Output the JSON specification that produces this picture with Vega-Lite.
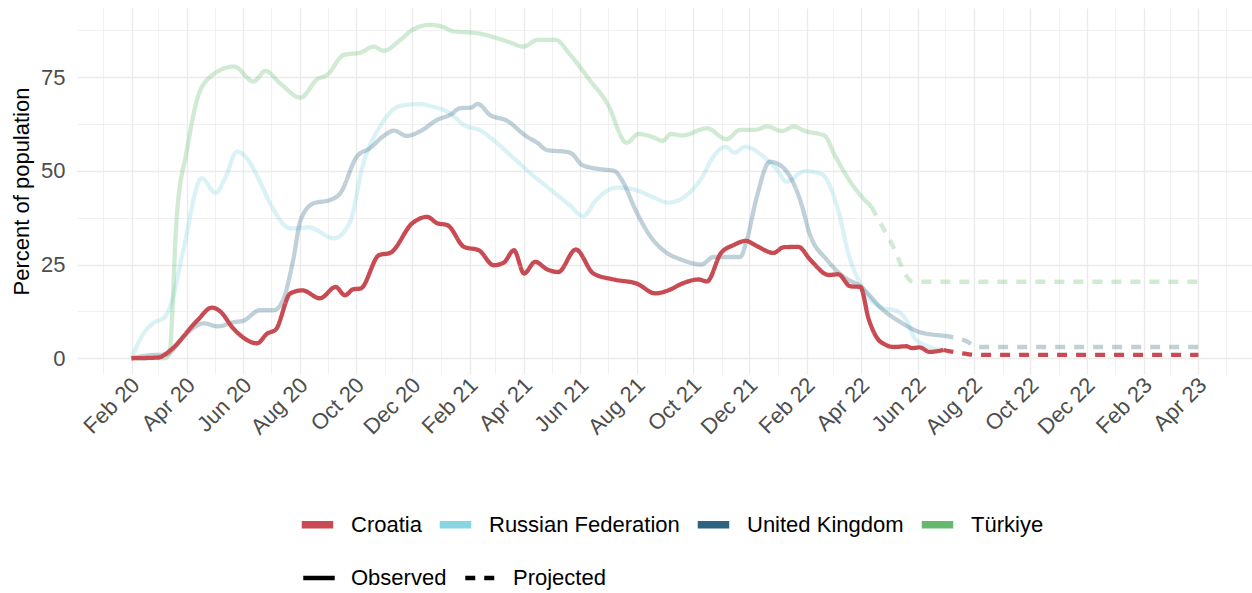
{
  "$schema": "https://vega.github.io/schema/vega-lite/v6.json",
  "width": 1175,
  "height": 366,
  "autosize": {"type": "none"},
  "padding": {"left": 77, "top": 8, "right": 0, "bottom": 219},
  "background": "white",
  "config": {
    "view": {"stroke": null},
    "font": "Liberation Sans",
    "axis": {
      "domain": false,
      "ticks": false,
      "gridColor": "#EBEBEB",
      "labelColor": "#4D4D4D",
      "labelFont": "Liberation Sans",
      "labelFontSize": 22,
      "titleFont": "Liberation Sans",
      "titleFontSize": 22,
      "titleFontWeight": "normal",
      "titleColor": "#000000"
    },
    "legend": {
      "labelFont": "Liberation Sans",
      "labelFontSize": 22,
      "labelColor": "#000000",
      "labelLimit": 400,
      "padding": 0
    }
  },
  "data": {
    "values": [
      {"country": "Croatia", "type": "Observed", "date": "2020-02-01", "value": 0},
      {"country": "Croatia", "type": "Observed", "date": "2020-03-01", "value": 0.2},
      {"country": "Croatia", "type": "Observed", "date": "2020-03-14", "value": 2.1},
      {"country": "Croatia", "type": "Observed", "date": "2020-04-12", "value": 10},
      {"country": "Croatia", "type": "Observed", "date": "2020-04-28", "value": 13.5},
      {"country": "Croatia", "type": "Observed", "date": "2020-05-07", "value": 12.5},
      {"country": "Croatia", "type": "Observed", "date": "2020-05-21", "value": 8},
      {"country": "Croatia", "type": "Observed", "date": "2020-06-16", "value": 4},
      {"country": "Croatia", "type": "Observed", "date": "2020-06-27", "value": 6.6},
      {"country": "Croatia", "type": "Observed", "date": "2020-07-06", "value": 7.6},
      {"country": "Croatia", "type": "Observed", "date": "2020-07-22", "value": 17.3},
      {"country": "Croatia", "type": "Observed", "date": "2020-08-04", "value": 18.1},
      {"country": "Croatia", "type": "Observed", "date": "2020-08-23", "value": 16},
      {"country": "Croatia", "type": "Observed", "date": "2020-09-09", "value": 19},
      {"country": "Croatia", "type": "Observed", "date": "2020-09-19", "value": 16.8},
      {"country": "Croatia", "type": "Observed", "date": "2020-09-28", "value": 18.4},
      {"country": "Croatia", "type": "Observed", "date": "2020-10-06", "value": 18.6},
      {"country": "Croatia", "type": "Observed", "date": "2020-10-26", "value": 27.5},
      {"country": "Croatia", "type": "Observed", "date": "2020-11-07", "value": 28.1},
      {"country": "Croatia", "type": "Observed", "date": "2020-12-01", "value": 36},
      {"country": "Croatia", "type": "Observed", "date": "2020-12-17", "value": 37.7},
      {"country": "Croatia", "type": "Observed", "date": "2020-12-28", "value": 36},
      {"country": "Croatia", "type": "Observed", "date": "2021-01-08", "value": 35.5},
      {"country": "Croatia", "type": "Observed", "date": "2021-01-26", "value": 29.7},
      {"country": "Croatia", "type": "Observed", "date": "2021-02-11", "value": 28.8},
      {"country": "Croatia", "type": "Observed", "date": "2021-02-27", "value": 24.8},
      {"country": "Croatia", "type": "Observed", "date": "2021-03-10", "value": 25.5},
      {"country": "Croatia", "type": "Observed", "date": "2021-03-21", "value": 28.8},
      {"country": "Croatia", "type": "Observed", "date": "2021-04-01", "value": 22.6},
      {"country": "Croatia", "type": "Observed", "date": "2021-04-13", "value": 25.7},
      {"country": "Croatia", "type": "Observed", "date": "2021-04-26", "value": 23.7},
      {"country": "Croatia", "type": "Observed", "date": "2021-05-08", "value": 23},
      {"country": "Croatia", "type": "Observed", "date": "2021-05-27", "value": 29},
      {"country": "Croatia", "type": "Observed", "date": "2021-06-15", "value": 22.6},
      {"country": "Croatia", "type": "Observed", "date": "2021-07-07", "value": 21},
      {"country": "Croatia", "type": "Observed", "date": "2021-08-01", "value": 19.9},
      {"country": "Croatia", "type": "Observed", "date": "2021-08-21", "value": 17.3},
      {"country": "Croatia", "type": "Observed", "date": "2021-09-06", "value": 18.3},
      {"country": "Croatia", "type": "Observed", "date": "2021-09-19", "value": 19.9},
      {"country": "Croatia", "type": "Observed", "date": "2021-10-07", "value": 21},
      {"country": "Croatia", "type": "Observed", "date": "2021-10-16", "value": 20.5},
      {"country": "Croatia", "type": "Observed", "date": "2021-10-31", "value": 28},
      {"country": "Croatia", "type": "Observed", "date": "2021-11-14", "value": 30.2},
      {"country": "Croatia", "type": "Observed", "date": "2021-11-27", "value": 31.3},
      {"country": "Croatia", "type": "Observed", "date": "2021-12-09", "value": 29.9},
      {"country": "Croatia", "type": "Observed", "date": "2021-12-27", "value": 28.1},
      {"country": "Croatia", "type": "Observed", "date": "2022-01-07", "value": 29.6},
      {"country": "Croatia", "type": "Observed", "date": "2022-01-23", "value": 29.7},
      {"country": "Croatia", "type": "Observed", "date": "2022-02-05", "value": 26.2},
      {"country": "Croatia", "type": "Observed", "date": "2022-02-25", "value": 22.2},
      {"country": "Croatia", "type": "Observed", "date": "2022-03-07", "value": 22.4},
      {"country": "Croatia", "type": "Observed", "date": "2022-03-20", "value": 19.2},
      {"country": "Croatia", "type": "Observed", "date": "2022-03-31", "value": 19.0},
      {"country": "Croatia", "type": "Observed", "date": "2022-04-09", "value": 10.5},
      {"country": "Croatia", "type": "Observed", "date": "2022-04-20", "value": 4.8},
      {"country": "Croatia", "type": "Observed", "date": "2022-04-25", "value": 3.9},
      {"country": "Croatia", "type": "Observed", "date": "2022-05-06", "value": 3.0},
      {"country": "Croatia", "type": "Observed", "date": "2022-05-20", "value": 3.2},
      {"country": "Croatia", "type": "Observed", "date": "2022-05-26", "value": 2.7},
      {"country": "Croatia", "type": "Observed", "date": "2022-06-03", "value": 2.9},
      {"country": "Croatia", "type": "Observed", "date": "2022-06-14", "value": 1.7},
      {"country": "Croatia", "type": "Observed", "date": "2022-06-29", "value": 2.2},
      {"country": "Croatia", "type": "Projected", "date": "2022-06-29", "value": 2.2},
      {"country": "Croatia", "type": "Projected", "date": "2022-07-25", "value": 1.1},
      {"country": "Croatia", "type": "Projected", "date": "2022-08-04", "value": 0.9},
      {"country": "Croatia", "type": "Projected", "date": "2023-04-01", "value": 0.9},

      {"country": "Russian Federation", "type": "Observed", "date": "2020-02-01", "value": 0},
      {"country": "Russian Federation", "type": "Observed", "date": "2020-02-14", "value": 6.6},
      {"country": "Russian Federation", "type": "Observed", "date": "2020-02-24", "value": 9.3},
      {"country": "Russian Federation", "type": "Observed", "date": "2020-03-08", "value": 11},
      {"country": "Russian Federation", "type": "Observed", "date": "2020-03-15", "value": 14.6},
      {"country": "Russian Federation", "type": "Observed", "date": "2020-03-28", "value": 28.8},
      {"country": "Russian Federation", "type": "Observed", "date": "2020-04-17", "value": 48},
      {"country": "Russian Federation", "type": "Observed", "date": "2020-05-02", "value": 44.1},
      {"country": "Russian Federation", "type": "Observed", "date": "2020-05-13", "value": 48.4},
      {"country": "Russian Federation", "type": "Observed", "date": "2020-05-25", "value": 55.1},
      {"country": "Russian Federation", "type": "Observed", "date": "2020-06-05", "value": 53.3},
      {"country": "Russian Federation", "type": "Observed", "date": "2020-06-19", "value": 47.1},
      {"country": "Russian Federation", "type": "Observed", "date": "2020-07-02", "value": 40.4},
      {"country": "Russian Federation", "type": "Observed", "date": "2020-07-22", "value": 34.6},
      {"country": "Russian Federation", "type": "Observed", "date": "2020-08-11", "value": 34.9},
      {"country": "Russian Federation", "type": "Observed", "date": "2020-09-07", "value": 32},
      {"country": "Russian Federation", "type": "Observed", "date": "2020-09-24", "value": 36},
      {"country": "Russian Federation", "type": "Observed", "date": "2020-10-09", "value": 52},
      {"country": "Russian Federation", "type": "Observed", "date": "2020-10-27", "value": 61.8},
      {"country": "Russian Federation", "type": "Observed", "date": "2020-11-18", "value": 67.3},
      {"country": "Russian Federation", "type": "Observed", "date": "2020-12-10", "value": 67.8},
      {"country": "Russian Federation", "type": "Observed", "date": "2020-12-20", "value": 67.3},
      {"country": "Russian Federation", "type": "Observed", "date": "2021-01-11", "value": 65.3},
      {"country": "Russian Federation", "type": "Observed", "date": "2021-01-26", "value": 62.2},
      {"country": "Russian Federation", "type": "Observed", "date": "2021-02-13", "value": 60.7},
      {"country": "Russian Federation", "type": "Observed", "date": "2021-03-03", "value": 57.3},
      {"country": "Russian Federation", "type": "Observed", "date": "2021-03-21", "value": 53.3},
      {"country": "Russian Federation", "type": "Observed", "date": "2021-04-08", "value": 49.3},
      {"country": "Russian Federation", "type": "Observed", "date": "2021-04-30", "value": 44.9},
      {"country": "Russian Federation", "type": "Observed", "date": "2021-05-20", "value": 40.9},
      {"country": "Russian Federation", "type": "Observed", "date": "2021-06-04", "value": 37.9},
      {"country": "Russian Federation", "type": "Observed", "date": "2021-06-18", "value": 42.2},
      {"country": "Russian Federation", "type": "Observed", "date": "2021-07-10", "value": 45.5},
      {"country": "Russian Federation", "type": "Observed", "date": "2021-07-29", "value": 45},
      {"country": "Russian Federation", "type": "Observed", "date": "2021-08-19", "value": 42.9},
      {"country": "Russian Federation", "type": "Observed", "date": "2021-09-04", "value": 41.5},
      {"country": "Russian Federation", "type": "Observed", "date": "2021-09-24", "value": 43.5},
      {"country": "Russian Federation", "type": "Observed", "date": "2021-10-10", "value": 48},
      {"country": "Russian Federation", "type": "Observed", "date": "2021-10-23", "value": 53.8},
      {"country": "Russian Federation", "type": "Observed", "date": "2021-11-05", "value": 56.4},
      {"country": "Russian Federation", "type": "Observed", "date": "2021-11-15", "value": 54.8},
      {"country": "Russian Federation", "type": "Observed", "date": "2021-11-26", "value": 56.4},
      {"country": "Russian Federation", "type": "Observed", "date": "2021-12-16", "value": 53.8},
      {"country": "Russian Federation", "type": "Observed", "date": "2021-12-31", "value": 50.2},
      {"country": "Russian Federation", "type": "Observed", "date": "2022-01-10", "value": 47.1},
      {"country": "Russian Federation", "type": "Observed", "date": "2022-01-30", "value": 49.9},
      {"country": "Russian Federation", "type": "Observed", "date": "2022-02-17", "value": 49.1},
      {"country": "Russian Federation", "type": "Observed", "date": "2022-03-07", "value": 39.5},
      {"country": "Russian Federation", "type": "Observed", "date": "2022-03-18", "value": 28},
      {"country": "Russian Federation", "type": "Observed", "date": "2022-03-31", "value": 19.9},
      {"country": "Russian Federation", "type": "Observed", "date": "2022-04-21", "value": 13.7},
      {"country": "Russian Federation", "type": "Observed", "date": "2022-05-11", "value": 12.4},
      {"country": "Russian Federation", "type": "Observed", "date": "2022-05-20", "value": 10.1},
      {"country": "Russian Federation", "type": "Observed", "date": "2022-05-29", "value": 5.3},
      {"country": "Russian Federation", "type": "Observed", "date": "2022-06-14", "value": 3},
      {"country": "Russian Federation", "type": "Observed", "date": "2022-06-29", "value": 2.2},

      {"country": "United Kingdom", "type": "Observed", "date": "2020-02-01", "value": 0},
      {"country": "United Kingdom", "type": "Observed", "date": "2020-02-21", "value": 0.8},
      {"country": "United Kingdom", "type": "Observed", "date": "2020-03-10", "value": 1},
      {"country": "United Kingdom", "type": "Observed", "date": "2020-03-28", "value": 5.7},
      {"country": "United Kingdom", "type": "Observed", "date": "2020-04-19", "value": 9.3},
      {"country": "United Kingdom", "type": "Observed", "date": "2020-05-05", "value": 8.5},
      {"country": "United Kingdom", "type": "Observed", "date": "2020-05-21", "value": 9.6},
      {"country": "United Kingdom", "type": "Observed", "date": "2020-06-01", "value": 10},
      {"country": "United Kingdom", "type": "Observed", "date": "2020-06-19", "value": 12.8},
      {"country": "United Kingdom", "type": "Observed", "date": "2020-07-04", "value": 12.8},
      {"country": "United Kingdom", "type": "Observed", "date": "2020-07-14", "value": 15.5},
      {"country": "United Kingdom", "type": "Observed", "date": "2020-07-25", "value": 26.2},
      {"country": "United Kingdom", "type": "Observed", "date": "2020-08-02", "value": 36.8},
      {"country": "United Kingdom", "type": "Observed", "date": "2020-08-16", "value": 41.3},
      {"country": "United Kingdom", "type": "Observed", "date": "2020-09-03", "value": 42.2},
      {"country": "United Kingdom", "type": "Observed", "date": "2020-09-14", "value": 44},
      {"country": "United Kingdom", "type": "Observed", "date": "2020-10-02", "value": 53.8},
      {"country": "United Kingdom", "type": "Observed", "date": "2020-10-16", "value": 56},
      {"country": "United Kingdom", "type": "Observed", "date": "2020-10-31", "value": 59.3},
      {"country": "United Kingdom", "type": "Observed", "date": "2020-11-11", "value": 60.7},
      {"country": "United Kingdom", "type": "Observed", "date": "2020-11-25", "value": 59.3},
      {"country": "United Kingdom", "type": "Observed", "date": "2020-12-10", "value": 60.6},
      {"country": "United Kingdom", "type": "Observed", "date": "2020-12-28", "value": 63.6},
      {"country": "United Kingdom", "type": "Observed", "date": "2021-01-11", "value": 64.9},
      {"country": "United Kingdom", "type": "Observed", "date": "2021-01-22", "value": 66.7},
      {"country": "United Kingdom", "type": "Observed", "date": "2021-02-02", "value": 66.8},
      {"country": "United Kingdom", "type": "Observed", "date": "2021-02-10", "value": 67.8},
      {"country": "United Kingdom", "type": "Observed", "date": "2021-02-23", "value": 64.9},
      {"country": "United Kingdom", "type": "Observed", "date": "2021-03-13", "value": 63.4},
      {"country": "United Kingdom", "type": "Observed", "date": "2021-04-04", "value": 59.1},
      {"country": "United Kingdom", "type": "Observed", "date": "2021-04-15", "value": 57.5},
      {"country": "United Kingdom", "type": "Observed", "date": "2021-04-26", "value": 55.5},
      {"country": "United Kingdom", "type": "Observed", "date": "2021-05-18", "value": 55},
      {"country": "United Kingdom", "type": "Observed", "date": "2021-05-23", "value": 54.5},
      {"country": "United Kingdom", "type": "Observed", "date": "2021-06-03", "value": 51.5},
      {"country": "United Kingdom", "type": "Observed", "date": "2021-06-23", "value": 50.4},
      {"country": "United Kingdom", "type": "Observed", "date": "2021-07-07", "value": 50},
      {"country": "United Kingdom", "type": "Observed", "date": "2021-07-18", "value": 46.6},
      {"country": "United Kingdom", "type": "Observed", "date": "2021-07-29", "value": 40.4},
      {"country": "United Kingdom", "type": "Observed", "date": "2021-08-16", "value": 32.4},
      {"country": "United Kingdom", "type": "Observed", "date": "2021-09-03", "value": 28},
      {"country": "United Kingdom", "type": "Observed", "date": "2021-09-17", "value": 26.4},
      {"country": "United Kingdom", "type": "Observed", "date": "2021-10-10", "value": 25},
      {"country": "United Kingdom", "type": "Observed", "date": "2021-10-23", "value": 27},
      {"country": "United Kingdom", "type": "Observed", "date": "2021-11-06", "value": 27},
      {"country": "United Kingdom", "type": "Observed", "date": "2021-11-21", "value": 27},
      {"country": "United Kingdom", "type": "Observed", "date": "2021-11-28", "value": 31.5},
      {"country": "United Kingdom", "type": "Observed", "date": "2021-12-09", "value": 43.1},
      {"country": "United Kingdom", "type": "Observed", "date": "2021-12-23", "value": 52.4},
      {"country": "United Kingdom", "type": "Observed", "date": "2022-01-03", "value": 51.5},
      {"country": "United Kingdom", "type": "Observed", "date": "2022-01-16", "value": 47.5},
      {"country": "United Kingdom", "type": "Observed", "date": "2022-01-26", "value": 41.3},
      {"country": "United Kingdom", "type": "Observed", "date": "2022-02-04", "value": 33.3},
      {"country": "United Kingdom", "type": "Observed", "date": "2022-02-23", "value": 26.2},
      {"country": "United Kingdom", "type": "Observed", "date": "2022-03-13", "value": 21.7},
      {"country": "United Kingdom", "type": "Observed", "date": "2022-03-31", "value": 19.2},
      {"country": "United Kingdom", "type": "Observed", "date": "2022-04-25", "value": 12.8},
      {"country": "United Kingdom", "type": "Observed", "date": "2022-05-13", "value": 9.7},
      {"country": "United Kingdom", "type": "Observed", "date": "2022-06-03", "value": 7},
      {"country": "United Kingdom", "type": "Observed", "date": "2022-06-25", "value": 6.1},
      {"country": "United Kingdom", "type": "Observed", "date": "2022-06-29", "value": 6},
      {"country": "United Kingdom", "type": "Projected", "date": "2022-06-29", "value": 6},
      {"country": "United Kingdom", "type": "Projected", "date": "2022-07-25", "value": 4.4},
      {"country": "United Kingdom", "type": "Projected", "date": "2022-08-04", "value": 3.0},
      {"country": "United Kingdom", "type": "Projected", "date": "2023-04-01", "value": 3.0},

      {"country": "Türkiye", "type": "Observed", "date": "2020-02-01", "value": 0},
      {"country": "Türkiye", "type": "Observed", "date": "2020-03-08", "value": 0},
      {"country": "Türkiye", "type": "Observed", "date": "2020-03-13", "value": 1.3},
      {"country": "Türkiye", "type": "Observed", "date": "2020-03-21", "value": 37.7},
      {"country": "Türkiye", "type": "Observed", "date": "2020-04-01", "value": 55.5},
      {"country": "Türkiye", "type": "Observed", "date": "2020-04-12", "value": 69},
      {"country": "Türkiye", "type": "Observed", "date": "2020-04-26", "value": 75},
      {"country": "Türkiye", "type": "Observed", "date": "2020-05-22", "value": 77.8},
      {"country": "Türkiye", "type": "Observed", "date": "2020-06-12", "value": 73.8},
      {"country": "Türkiye", "type": "Observed", "date": "2020-06-25", "value": 76.6},
      {"country": "Türkiye", "type": "Observed", "date": "2020-07-11", "value": 73.3},
      {"country": "Türkiye", "type": "Observed", "date": "2020-08-02", "value": 69.5},
      {"country": "Türkiye", "type": "Observed", "date": "2020-08-20", "value": 74.4},
      {"country": "Türkiye", "type": "Observed", "date": "2020-08-31", "value": 75.6},
      {"country": "Türkiye", "type": "Observed", "date": "2020-09-18", "value": 80.9},
      {"country": "Türkiye", "type": "Observed", "date": "2020-10-06", "value": 81.5},
      {"country": "Türkiye", "type": "Observed", "date": "2020-10-20", "value": 83.1},
      {"country": "Türkiye", "type": "Observed", "date": "2020-10-31", "value": 82},
      {"country": "Türkiye", "type": "Observed", "date": "2020-11-18", "value": 84.9},
      {"country": "Türkiye", "type": "Observed", "date": "2020-12-02", "value": 87.7},
      {"country": "Türkiye", "type": "Observed", "date": "2020-12-20", "value": 88.9},
      {"country": "Türkiye", "type": "Observed", "date": "2021-01-04", "value": 88.3},
      {"country": "Türkiye", "type": "Observed", "date": "2021-01-14", "value": 87.2},
      {"country": "Türkiye", "type": "Observed", "date": "2021-02-09", "value": 86.7},
      {"country": "Türkiye", "type": "Observed", "date": "2021-03-06", "value": 85.1},
      {"country": "Türkiye", "type": "Observed", "date": "2021-03-17", "value": 84.2},
      {"country": "Türkiye", "type": "Observed", "date": "2021-03-31", "value": 83.1},
      {"country": "Türkiye", "type": "Observed", "date": "2021-04-16", "value": 84.9},
      {"country": "Türkiye", "type": "Observed", "date": "2021-05-05", "value": 84.9},
      {"country": "Türkiye", "type": "Observed", "date": "2021-05-21", "value": 80.9},
      {"country": "Türkiye", "type": "Observed", "date": "2021-06-11", "value": 74.2},
      {"country": "Türkiye", "type": "Observed", "date": "2021-06-30", "value": 68},
      {"country": "Türkiye", "type": "Observed", "date": "2021-07-21", "value": 57.5},
      {"country": "Türkiye", "type": "Observed", "date": "2021-08-03", "value": 59.8},
      {"country": "Türkiye", "type": "Observed", "date": "2021-08-19", "value": 58.9},
      {"country": "Türkiye", "type": "Observed", "date": "2021-08-29", "value": 58},
      {"country": "Türkiye", "type": "Observed", "date": "2021-09-07", "value": 59.8},
      {"country": "Türkiye", "type": "Observed", "date": "2021-09-19", "value": 59.4},
      {"country": "Türkiye", "type": "Observed", "date": "2021-10-16", "value": 61.3},
      {"country": "Türkiye", "type": "Observed", "date": "2021-11-06", "value": 58.4},
      {"country": "Türkiye", "type": "Observed", "date": "2021-11-21", "value": 60.9},
      {"country": "Türkiye", "type": "Observed", "date": "2021-12-07", "value": 60.9},
      {"country": "Türkiye", "type": "Observed", "date": "2021-12-20", "value": 61.8},
      {"country": "Türkiye", "type": "Observed", "date": "2022-01-05", "value": 60.6},
      {"country": "Türkiye", "type": "Observed", "date": "2022-01-18", "value": 61.8},
      {"country": "Türkiye", "type": "Observed", "date": "2022-01-30", "value": 60.6},
      {"country": "Türkiye", "type": "Observed", "date": "2022-02-20", "value": 59.4},
      {"country": "Türkiye", "type": "Observed", "date": "2022-03-04", "value": 53.8},
      {"country": "Türkiye", "type": "Observed", "date": "2022-03-24", "value": 45.7},
      {"country": "Türkiye", "type": "Observed", "date": "2022-04-12", "value": 40.4},
      {"country": "Türkiye", "type": "Projected", "date": "2022-04-12", "value": 40.4},
      {"country": "Türkiye", "type": "Projected", "date": "2022-05-02", "value": 31.5},
      {"country": "Türkiye", "type": "Projected", "date": "2022-05-27", "value": 20.4},
      {"country": "Türkiye", "type": "Projected", "date": "2023-04-01", "value": 20.4}
    ]
  },
  "encoding": {
    "x": {
      "field": "date",
      "type": "temporal",
      "scale": {"type": "utc", "domain": ["2019-12-04", "2023-05-29"], "nice": false},
      "axis": {
        "title": null,
        "values": [
          {"year": 2020, "month": 1, "date": 1, "utc": true}, {"year": 2020, "month": 2, "date": 1, "utc": true},
          {"year": 2020, "month": 3, "date": 1, "utc": true}, {"year": 2020, "month": 4, "date": 1, "utc": true},
          {"year": 2020, "month": 5, "date": 1, "utc": true}, {"year": 2020, "month": 6, "date": 1, "utc": true},
          {"year": 2020, "month": 7, "date": 1, "utc": true}, {"year": 2020, "month": 8, "date": 1, "utc": true},
          {"year": 2020, "month": 9, "date": 1, "utc": true}, {"year": 2020, "month": 10, "date": 1, "utc": true},
          {"year": 2020, "month": 11, "date": 1, "utc": true}, {"year": 2020, "month": 12, "date": 1, "utc": true},
          {"year": 2021, "month": 1, "date": 1, "utc": true}, {"year": 2021, "month": 2, "date": 1, "utc": true},
          {"year": 2021, "month": 3, "date": 1, "utc": true}, {"year": 2021, "month": 4, "date": 1, "utc": true},
          {"year": 2021, "month": 5, "date": 1, "utc": true}, {"year": 2021, "month": 6, "date": 1, "utc": true},
          {"year": 2021, "month": 7, "date": 1, "utc": true}, {"year": 2021, "month": 8, "date": 1, "utc": true},
          {"year": 2021, "month": 9, "date": 1, "utc": true}, {"year": 2021, "month": 10, "date": 1, "utc": true},
          {"year": 2021, "month": 11, "date": 1, "utc": true}, {"year": 2021, "month": 12, "date": 1, "utc": true},
          {"year": 2022, "month": 1, "date": 1, "utc": true}, {"year": 2022, "month": 2, "date": 1, "utc": true},
          {"year": 2022, "month": 3, "date": 1, "utc": true}, {"year": 2022, "month": 4, "date": 1, "utc": true},
          {"year": 2022, "month": 5, "date": 1, "utc": true}, {"year": 2022, "month": 6, "date": 1, "utc": true},
          {"year": 2022, "month": 7, "date": 1, "utc": true}, {"year": 2022, "month": 8, "date": 1, "utc": true},
          {"year": 2022, "month": 9, "date": 1, "utc": true}, {"year": 2022, "month": 10, "date": 1, "utc": true},
          {"year": 2022, "month": 11, "date": 1, "utc": true}, {"year": 2022, "month": 12, "date": 1, "utc": true},
          {"year": 2023, "month": 1, "date": 1, "utc": true}, {"year": 2023, "month": 2, "date": 1, "utc": true},
          {"year": 2023, "month": 3, "date": 1, "utc": true}, {"year": 2023, "month": 4, "date": 1, "utc": true},
          {"year": 2023, "month": 5, "date": 1, "utc": true}
        ],
        "labelExpr": "utcmonth(datum.value) % 2 == 1 ? utcFormat(datum.value, '%b %y') : ''",
        "labelAngle": -45,
        "labelAlign": "right",
        "labelBaseline": "top",
        "labelPadding": 0,
        "labelOffset": -3,
        "labelOverlap": false,
        "labelBound": false,
        "gridWidth": {"condition": {"test": "utcmonth(datum.value) % 2 == 1", "value": 1.4}, "value": 0.7}
      }
    },
    "y": {
      "field": "value",
      "type": "quantitative",
      "scale": {"domain": [-4.2, 93.4], "nice": false, "zero": false},
      "axis": {
        "title": "Percent of population",
        "values": [0, 12.5, 25, 37.5, 50, 62.5, 75, 87.5],
        "labelExpr": "datum.value % 25 == 0 ? datum.label : ''",
        "labelPadding": 12,
        "titlePadding": 7,
        "labelOverlap": false,
        "gridWidth": {"condition": {"test": "datum.value % 25 == 0", "value": 1.4}, "value": 0.7}
      }
    },
    "color": {
      "field": "country",
      "type": "nominal",
      "scale": {
        "domain": ["Croatia", "Russian Federation", "United Kingdom", "Türkiye"],
        "range": ["#C84A52", "#86D5E0", "#2C6382", "#64B96E"]
      },
      "legend": {
        "title": null,
        "orient": "none",
        "legendX": 221,
        "legendY": 497,
        "direction": "horizontal",
        "symbolType": "stroke",
        "symbolSize": 992,
        "symbolStrokeWidth": 7.5,
        "symbolOpacity": 1,
        "labelOffset": 14,
        "columnPadding": 2
      }
    },
    "strokeDash": {
      "field": "type",
      "type": "nominal",
      "scale": {"domain": ["Observed", "Projected"], "range": [[1, 0], [10, 9]]},
      "legend": {
        "title": null,
        "orient": "none",
        "legendX": 224,
        "legendY": 552,
        "direction": "horizontal",
        "symbolType": "stroke",
        "symbolSize": 992,
        "symbolStrokeWidth": 4.5,
        "symbolStrokeColor": "#000000",
        "symbolOpacity": 1,
        "labelOffset": 14,
        "columnPadding": 9
      }
    }
  },
  "layer": [
    {
      "transform": [{"filter": "datum.country != 'Croatia'"}],
      "mark": {"type": "line", "strokeWidth": 4.3, "strokeOpacity": 0.3, "interpolate": "monotone"}
    },
    {
      "transform": [{"filter": "datum.country == 'Croatia'"}],
      "mark": {"type": "line", "strokeWidth": 4.3, "interpolate": "monotone"}
    }
  ]
}
